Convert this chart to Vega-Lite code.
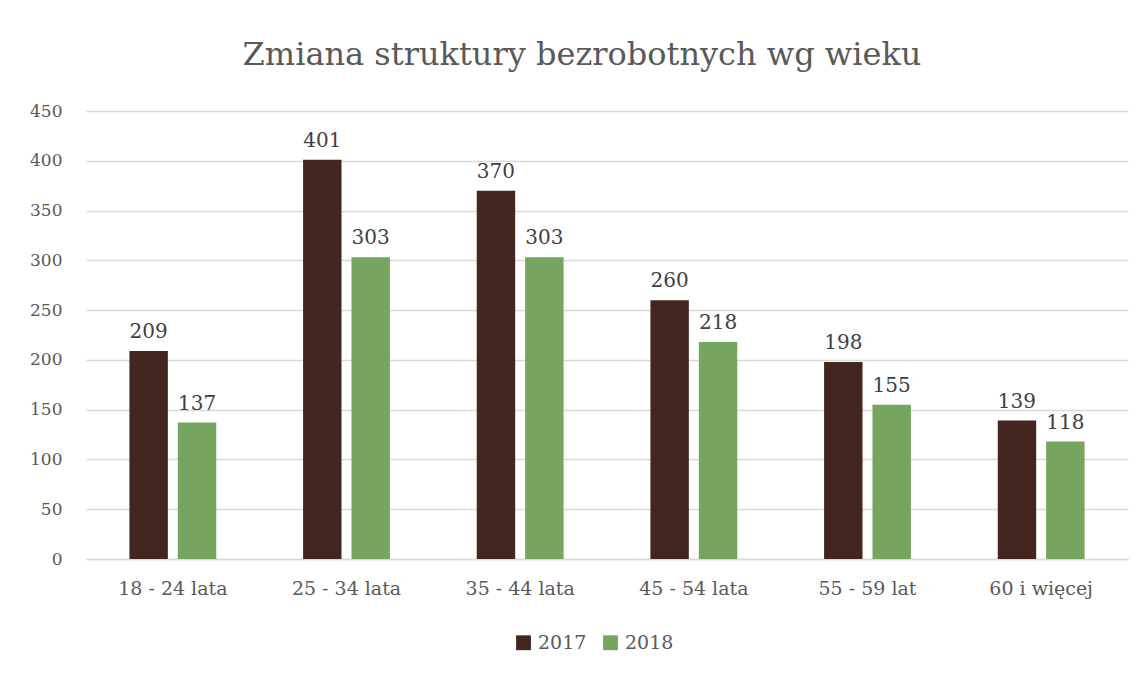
{
  "$schema": "https://vega.github.io/schema/vega-lite/v6.json",
  "width": 1042,
  "height": 448,
  "autosize": {"type": "none"},
  "padding": {"left": 86, "top": 111, "right": 15, "bottom": 116},
  "background": "white",
  "title": {
    "text": "Zmiana struktury bezrobotnych wg wieku",
    "font": "DejaVu Serif",
    "fontSize": 32,
    "fontWeight": "normal",
    "color": "#595959",
    "anchor": "middle",
    "dx": -25,
    "offset": 30
  },
  "config": {
    "view": {"stroke": null},
    "font": "DejaVu Serif"
  },
  "data": {
    "values": [
      {"wiek": "18 - 24 lata", "rok": "2017", "liczba": 209},
      {"wiek": "18 - 24 lata", "rok": "2018", "liczba": 137},
      {"wiek": "25 - 34 lata", "rok": "2017", "liczba": 401},
      {"wiek": "25 - 34 lata", "rok": "2018", "liczba": 303},
      {"wiek": "35 - 44 lata", "rok": "2017", "liczba": 370},
      {"wiek": "35 - 44 lata", "rok": "2018", "liczba": 303},
      {"wiek": "45 - 54 lata", "rok": "2017", "liczba": 260},
      {"wiek": "45 - 54 lata", "rok": "2018", "liczba": 218},
      {"wiek": "55 - 59 lat", "rok": "2017", "liczba": 198},
      {"wiek": "55 - 59 lat", "rok": "2018", "liczba": 155},
      {"wiek": "60 i więcej", "rok": "2017", "liczba": 139},
      {"wiek": "60 i więcej", "rok": "2018", "liczba": 118}
    ]
  },
  "encoding": {
    "x": {
      "field": "wiek",
      "type": "nominal",
      "sort": null,
      "scale": {"paddingInner": 0.5, "paddingOuter": 0.25},
      "axis": {
        "title": null,
        "labelAngle": 0,
        "labelFontSize": 19,
        "labelColor": "#595959",
        "labelPadding": 20,
        "ticks": false,
        "domain": true,
        "domainColor": "#D9D9D9",
        "domainWidth": 1.5
      }
    },
    "xOffset": {
      "field": "rok",
      "type": "nominal",
      "scale": {"paddingInner": 0.206, "paddingOuter": 0}
    },
    "y": {
      "field": "liczba",
      "type": "quantitative",
      "scale": {"domain": [0, 450]},
      "axis": {
        "title": null,
        "values": [0, 50, 100, 150, 200, 250, 300, 350, 400, 450],
        "labelFontSize": 17,
        "labelColor": "#595959",
        "labelPadding": 24,
        "ticks": false,
        "domain": false,
        "gridColor": "#D9D9D9",
        "gridWidth": 1.5
      }
    }
  },
  "layer": [
    {
      "mark": {"type": "bar"},
      "encoding": {
        "color": {
          "field": "rok",
          "type": "nominal",
          "scale": {"domain": ["2017", "2018"], "range": ["#43261F", "#76A55F"]},
          "legend": {
            "title": null,
            "orient": "none",
            "legendX": 428,
            "legendY": 522,
            "direction": "horizontal",
            "symbolType": "square",
            "symbolSize": 220,
            "labelFontSize": 19,
            "labelColor": "#595959",
            "columnPadding": 14,
            "labelOffset": 5
          }
        }
      }
    },
    {
      "mark": {"type": "text", "baseline": "bottom", "dy": -9, "fontSize": 20, "color": "#404040"},
      "encoding": {
        "text": {"field": "liczba", "type": "quantitative"}
      }
    }
  ]
}
